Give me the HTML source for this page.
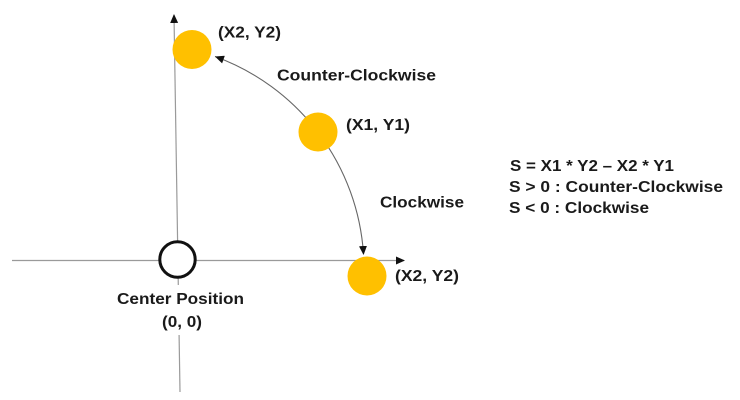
<!DOCTYPE html>
<html>
<head>
<meta charset="utf-8">
<style>
  html, body { margin: 0; padding: 0; background: #ffffff; }
  body { width: 740px; height: 400px; overflow: hidden; }
  svg { display: block; }
  text { font-family: "Liberation Sans", Arial, sans-serif; font-weight: bold; font-size: 16px; fill: #1a1a1a; }
</style>
</head>
<body>
<svg width="740" height="400" viewBox="0 0 740 400" xmlns="http://www.w3.org/2000/svg">
  <defs>
    <marker id="ah" markerWidth="10" markerHeight="10" refX="8" refY="4" orient="auto" markerUnits="userSpaceOnUse">
      <path d="M0,0 L9,4 L0,8 Z" fill="#111"/>
    </marker>
    <marker id="ahs" markerWidth="10" markerHeight="10" refX="0" refY="4" orient="auto" markerUnits="userSpaceOnUse">
      <path d="M9,0 L0,4 L9,8 Z" fill="#111"/>
    </marker>
  </defs>

  <!-- horizontal axis -->
  <line x1="12" y1="260.5" x2="404" y2="260.5" stroke="#9a9a9a" stroke-width="1.2" marker-end="url(#ah)"/>
  <!-- vertical axis -->
  <line x1="180" y1="392" x2="174" y2="15" stroke="#9a9a9a" stroke-width="1.2" marker-end="url(#ah)"/>
  <!-- white cover for label area -->
  <rect x="110" y="285" width="145" height="50" fill="#ffffff"/>

  <!-- arc with arrows both ends -->
  <path d="M 215 56.5 A 226 226 0 0 1 363.5 254" fill="none" stroke="#666" stroke-width="1.1" marker-start="url(#ahs)" marker-end="url(#ah)"/>

  <!-- center circle -->
  <circle cx="177.5" cy="259.5" r="17.7" fill="#ffffff" stroke="#111" stroke-width="3"/>

  <!-- yellow points -->
  <circle cx="192" cy="49.5" r="19.5" fill="#FFC000"/>
  <circle cx="318" cy="132" r="19.5" fill="#FFC000"/>
  <circle cx="367" cy="276" r="19.5" fill="#FFC000"/>

  <!-- labels -->
  <text x="218" y="37.5" textLength="63" lengthAdjust="spacingAndGlyphs">(X2, Y2)</text>
  <text x="277" y="80.5" textLength="159" lengthAdjust="spacingAndGlyphs">Counter-Clockwise</text>
  <text x="346" y="130" textLength="64" lengthAdjust="spacingAndGlyphs">(X1, Y1)</text>
  <text x="380" y="207.5" textLength="84" lengthAdjust="spacingAndGlyphs">Clockwise</text>
  <text x="395" y="281" textLength="64" lengthAdjust="spacingAndGlyphs">(X2, Y2)</text>
  <text x="117" y="304" textLength="127" lengthAdjust="spacingAndGlyphs">Center Position</text>
  <text x="162" y="327" textLength="40" lengthAdjust="spacingAndGlyphs">(0, 0)</text>

  <text x="510" y="171" textLength="164" lengthAdjust="spacingAndGlyphs">S = X1 * Y2 – X2 * Y1</text>
  <text x="509" y="192" textLength="214" lengthAdjust="spacingAndGlyphs">S &gt; 0 : Counter-Clockwise</text>
  <text x="509" y="213" textLength="140" lengthAdjust="spacingAndGlyphs">S &lt; 0 : Clockwise</text>
</svg>
</body>
</html>
